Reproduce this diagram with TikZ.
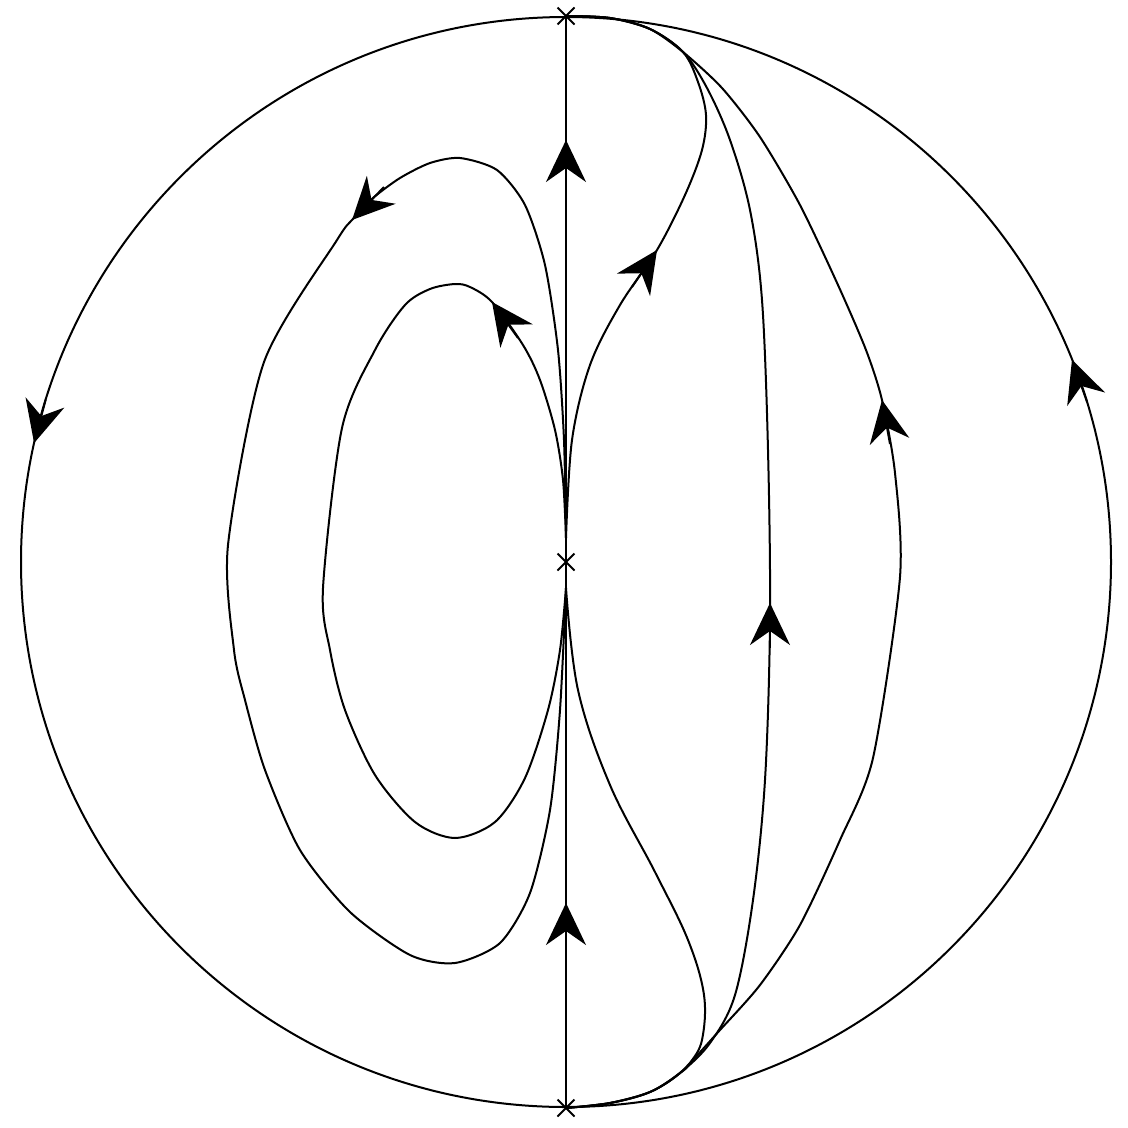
\documentclass[tikz,border=0pt]{standalone}
\usetikzlibrary{arrows.meta,shapes.misc}
\begin{document}
\begin{tikzpicture}[x=1pt,y=-1pt,
  orbit/.style={line width=2pt,line join=round},
  arrowtip/.style={line width=2pt,-{Stealth[length=42pt,width=40pt,inset=14pt]}},
  crit/.style={draw,cross out,line width=2pt,minimum size=15pt,inner sep=0pt}]
\useasboundingbox (0,0) rectangle (1128,1128);
% boundary circle
\draw[orbit] (566,562) circle[radius=545];
\node[crit] (ptop) at (566,16) {};
\node[crit] (pmid) at (566,562) {};
\node[crit] (pbot) at (566,1108) {};
% vertical invariant line
\draw[orbit] (pbot.center) -- (ptop.center);
% left inner loop
\draw[orbit] plot[smooth,tension=0.5] coordinates {
 (566,538) (563,480) (555,430) (540,380) (523,345) (492,302) (470,287) (455,284)
 (430,289) (405,305) (375,350) (342,428) (323,588) (330,650) (345,710) (375,775)
 (415,822) (455,838) (495,822) (525,778) (548,710) (560,650) (566,588)};
% left outer loop
\draw[orbit] plot[smooth,tension=0.45] coordinates {
 (566,538) (564,440) (558,350) (545,265) (525,205) (497,170) (460,158) (430,163)
 (400,178) (373,198) (352,220) (337,240) (264,362) (228,545) (234,650) (245,700)
 (265,770) (300,850) (350,912) (410,955) (455,963) (500,943) (530,893) (550,810)
 (560,710) (566,588)};
% right inner curve, upper
\draw[orbit] plot[smooth,tension=0.55] coordinates {
 (566,538) (572,440) (590,365) (620,305) (657,250) (685,195) (702,150) (706,115)
 (698,82) (683,52) (650,29) (610,18) (566,16)};
% right inner curve, lower
\draw[orbit] plot[smooth,tension=0.6] coordinates {
 (566,588) (578,690) (610,785) (655,872) (688,940) (704,995) (702,1040)
 (690,1063) (680,1073) (650,1092) (610,1103) (566,1108)};
% middle right curve
\draw[orbit] plot[smooth,tension=0.55] coordinates {
 (566,1108) (610,1103) (650,1092) (680,1073) (710,1043) (735,995) (753,900)
 (765,780) (770,620) (768,450) (762,300) (750,210) (730,140) (707,88) (683,52)
 (650,29) (610,18) (566,16)};
% outer right curve
\draw[orbit] plot[smooth,tension=0.45] coordinates {
 (566,1108) (610,1103) (650,1092) (680,1073) (720,1030) (760,985) (800,925)
 (840,840) (873,758) (900,577) (895,473) (882,400) (866,350) (838,285) (800,205)
 (760,137) (722,88) (683,52) (650,29) (610,18) (566,16)};
% arrowheads
\draw[arrowtip] (1087.1,402.0) -- (1072.0,359.6);
\draw[arrowtip] (45.7,399.6) -- (34.1,443.1);
\draw[arrowtip] (566,185) -- (566,140);
\draw[arrowtip] (566,948) -- (566,903);
\draw[arrowtip] (384,187) -- (352,220);
\draw[arrowtip] (518,338) -- (492,302);
\draw[arrowtip] (632,287) -- (657,250);
\draw[arrowtip] (770,648) -- (770,603);
\draw[arrowtip] (890,444) -- (882,400);
\end{tikzpicture}
\end{document}
